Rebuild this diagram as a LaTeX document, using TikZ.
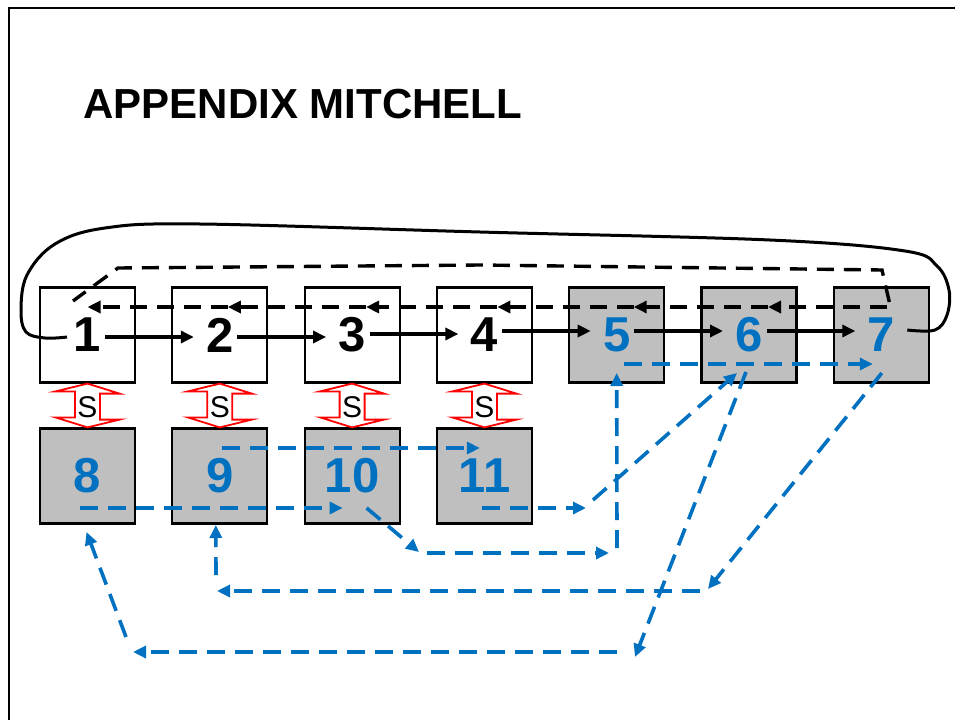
\documentclass[tikz,border=0pt]{standalone}
\usepackage{fontspec}
\setmainfont{Liberation Sans}
\usetikzlibrary{arrows.meta}
\definecolor{figBleu}{RGB}{0,112,192}
\definecolor{figGris}{RGB}{191,191,191}
\definecolor{figRouge}{RGB}{255,0,0}

\begin{document}
\begin{tikzpicture}[
  x=1pt, y=-1pt,
  box/.style={draw=black, line width=2.2pt, minimum width=95pt, minimum height=95pt, inner sep=0pt,
              fill=white, font=\fontsize{49}{50}\selectfont\bfseries},
  grisbox/.style={box, fill=figGris, text=figBleu},
  flow/.style={-{Triangle[length=13pt,width=12pt]}, line width=3.4pt, black},
  retour/.style={flow, dash pattern=on 17pt off 10pt},
  lien/.style={-{Triangle[length=13pt,width=12pt]}, line width=3.6pt, figBleu, dash pattern=on 18pt off 10pt},
  sfleche/.style={draw=figRouge, line width=1.8pt, fill=white, line join=miter},
  stxt/.style={font=\fontsize{30}{31}\selectfont, inner sep=0pt}
]
\useasboundingbox (0,0) rectangle (955,720);

% cadre
\draw[line width=2pt] (9,720) -- (9,8) -- (955,8);

\node[font=\fontsize{42}{44}\selectfont\bfseries, anchor=base west] (titre) at (80,118) {APPENDIX MITCHELL};

% rangee du haut
\node[box] (b1) at (87.5,335) {1};
\node[box] (b2) at (219.8,335) {2};
\node[box] (b3) at (352.1,335) {3};
\node[box] (b4) at (484.4,335) {4};
\node[grisbox] (b5) at (616.7,335) {5};
\node[grisbox] (b6) at (749,335) {6};
\node[grisbox] (b7) at (881.3,335) {7};

% rangee du bas
\node[grisbox] (b8) at (87.5,476) {8};
\node[grisbox] (b9) at (219.8,476) {9};
\node[grisbox] (b10) at (352.1,476) {10};
\node[grisbox] (b11) at (484.4,476) {11};

% fleches S entre les deux rangees
\draw[sfleche] (b1.south) -- ++(32,10) -- ++(-19.5,0) -- ++(0,26) -- ++(19.5,0) -- (b8.north)
      -- ++(-32,-10) -- ++(19.5,0) -- ++(0,-26) -- ++(-19.5,0) -- cycle;
\draw[sfleche] (b2.south) -- ++(32,10) -- ++(-19.5,0) -- ++(0,26) -- ++(19.5,0) -- (b9.north)
      -- ++(-32,-10) -- ++(19.5,0) -- ++(0,-26) -- ++(-19.5,0) -- cycle;
\draw[sfleche] (b3.south) -- ++(32,10) -- ++(-19.5,0) -- ++(0,26) -- ++(19.5,0) -- (b10.north)
      -- ++(-32,-10) -- ++(19.5,0) -- ++(0,-26) -- ++(-19.5,0) -- cycle;
\draw[sfleche] (b4.south) -- ++(32,10) -- ++(-19.5,0) -- ++(0,26) -- ++(19.5,0) -- (b11.north)
      -- ++(-32,-10) -- ++(19.5,0) -- ++(0,-26) -- ++(-19.5,0) -- cycle;
\path (b1.south) ++(0,24) node[stxt] (s1) {S};
\path (b2.south) ++(0,24) node[stxt] (s2) {S};
\path (b3.south) ++(0,24) node[stxt] (s3) {S};
\path (b4.south) ++(0,24) node[stxt] (s4) {S};

% chaine 1 -> 7
\draw[flow] ([shift={(17.5,2)}]b1.center) -- ([shift={(-26,2)}]b2.center);
\draw[flow] ([shift={(17.5,2)}]b2.center) -- ([shift={(-26,2)}]b3.center);
\draw[flow] ([shift={(17.5,-1)}]b3.center) -- ([shift={(-26,-1)}]b4.center);
\draw[flow] ([shift={(17.5,-4)}]b4.center) -- ([shift={(-26,-4)}]b5.center);
\draw[flow] ([shift={(17.5,-4)}]b5.center) -- ([shift={(-26,-4)}]b6.center);
\draw[flow] ([shift={(17.5,-4)}]b6.center) -- ([shift={(-26,-4)}]b7.center);

% retour 7 -> 1 en tirets
\draw[retour] ([shift={(6,-28)}]b7.center) -- ([shift={(19,-28)}]b6.center);
\draw[retour] ([shift={(19,-28)}]b6.center) -- ([shift={(17,-28)}]b5.center);
\draw[retour] ([shift={(17,-28)}]b5.center) -- ([shift={(13,-28)}]b4.center);
\draw[retour] ([shift={(13,-28)}]b4.center) -- ([shift={(14,-28)}]b3.center);
\draw[retour] ([shift={(14,-28)}]b3.center) -- ([shift={(8,-28)}]b2.center);
\draw[retour] ([shift={(8,-28)}]b2.center) -- ([shift={(0,-28)}]b1.center);
\draw[line width=3.4pt, dash pattern=on 17pt off 10pt]
      ([shift={(8,-33)}]b7.center) -- (882,270) -- (480,265) -- (118,268) -- ([shift={(-14.5,-34)}]b1.center);

% boucle pleine 7 -> 1
\draw[line width=3pt] plot[smooth, tension=0.6] coordinates {([shift={(26,-5)}]b7.center) (935,330)
      (947,315) (949,290) (937,266) (905,251) (770,240) (480,232) (200,224) (105,228) (55,244)
      (27,275) (21,310) (26,332) (45,338) ([shift={(-20.5,2)}]b1.center)};

% liaisons bleues
\coordinate (k1) at (419,552);
\coordinate (k2) at (427,553);
\coordinate (k3) at (609,553);
\coordinate (k4) at (617,548);
\coordinate (k5) at (586,508);
\coordinate (k6) at (593,500);
\coordinate (k7) at (635,657);
\coordinate (k8) at (617,652);
\coordinate (k9) at (133,652);
\coordinate (k10) at (126,637);
\coordinate (k11) at (708,589);
\coordinate (k12) at (700,591);
\coordinate (k13) at (217,591);
\coordinate (k14) at (216,575);

\draw[lien] ([shift={(-8,32)}]b8.center) -- ([shift={(-9.5,32)}]b10.center);
\draw[lien] ([shift={(2.5,-28)}]b9.center) -- ([shift={(-4.5,-28)}]b11.center);
\draw[lien] ([shift={(7.5,29)}]b5.center) -- ([shift={(-8.5,29)}]b7.center);

\draw[lien] ([shift={(14.5,32)}]b10.center) -- (k1);
\draw[lien] (k2) -- (k3);
\draw[lien] (k4) -- ([shift={(0,38)}]b5.center);

\draw[lien] ([shift={(-2.5,32)}]b11.center) -- (k5);
\draw[lien] (k6) -- ([shift={(-12,38)}]b6.center);

\draw[lien] ([shift={(-3,37)}]b6.center) -- (k7);
\draw[lien] (k8) -- (k9);
\draw[lien] (k10) -- ([shift={(-1,56)}]b8.center);

\draw[lien] ([shift={(0.5,38)}]b7.center) -- (k11);
\draw[lien] (k12) -- (k13);
\draw[lien] (k14) -- ([shift={(-4,49)}]b9.center);
\end{tikzpicture}
\end{document}
